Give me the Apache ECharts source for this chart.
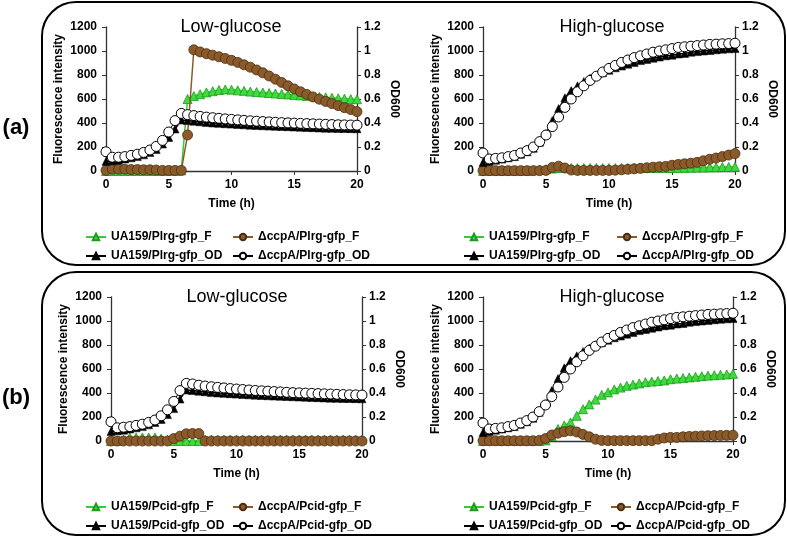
<!DOCTYPE html>
<html><head><meta charset="utf-8">
<script src="https://cdn.jsdelivr.net/npm/echarts@6/dist/echarts.min.js"></script>
<style>html,body{margin:0;padding:0;background:#fff}#c{width:787px;height:539px}</style>
</head><body><div id="c"></div>
<script>
// ---------------- DATA ----------------
const time = [0,0.5,1,1.5,2,2.5,3,3.5,4,4.5,5,5.5,6,6.5,7,7.5,8,8.5,9,9.5,10,10.5,11,11.5,12,12.5,13,13.5,14,14.5,15,15.5,16,16.5,17,17.5,18,18.5,19,19.5,20];
const xTicks = [0,5,10,15,20];
const panelTitles = ['Low-glucose','High-glucose','Low-glucose','High-glucose'];
const panelLabels = ['(a)','(b)'];
const namesA = ['UA159/Plrg-gfp_F','ΔccpA/Plrg-gfp_F','UA159/Plrg-gfp_OD','ΔccpA/Plrg-gfp_OD'];
const namesB = ['UA159/Pcid-gfp_F','ΔccpA/Pcid-gfp_F','UA159/Pcid-gfp_OD','ΔccpA/Pcid-gfp_OD'];

// (a) Low-glucose
const aLowUA_F   = [0,0,0,0,0,0,0,0,0,0,0,0,5,600,625,640,655,665,675,680,678,672,668,662,658,654,650,646,642,638,634,630,626,622,618,614,610,606,603,600,598];
const aLowCcpA_F = [5,15,15,15,12,12,10,10,8,5,5,5,5,300,1010,992,978,965,952,938,922,905,885,865,842,818,792,765,738,710,684,660,638,617,598,580,562,545,528,512,495];
const aLowUA_OD  = [0.08,0.085,0.09,0.1,0.11,0.12,0.135,0.155,0.18,0.225,0.28,0.35,0.425,0.42,0.415,0.41,0.405,0.4,0.397,0.394,0.391,0.388,0.385,0.382,0.379,0.377,0.375,0.373,0.371,0.369,0.367,0.365,0.363,0.361,0.359,0.357,0.356,0.355,0.354,0.353,0.352];
const aLowCcpA_OD= [0.16,0.115,0.115,0.12,0.13,0.14,0.155,0.175,0.205,0.255,0.325,0.42,0.48,0.47,0.462,0.455,0.449,0.444,0.439,0.434,0.43,0.426,0.422,0.418,0.415,0.412,0.409,0.406,0.403,0.401,0.399,0.397,0.395,0.393,0.391,0.389,0.387,0.385,0.384,0.383,0.382];

// (a) High-glucose
const aHighUA_F   = [0,0,0,0,0,0,0,0,5,10,15,20,25,25,25,25,25,25,25,25,25,25,25,25,25,25,25,25,25,25,25,26,27,28,29,30,31,32,33,34,35];
const aHighCcpA_F = [3,3,3,3,3,3,3,3,3,3,5,30,40,25,8,5,5,5,5,5,5,7,10,14,18,22,27,32,35,38,48,55,60,65,72,85,98,108,120,133,145];
const aHighUA_OD  = [0.07,0.08,0.09,0.1,0.11,0.12,0.14,0.16,0.19,0.24,0.31,0.42,0.52,0.61,0.67,0.71,0.745,0.775,0.8,0.82,0.84,0.86,0.875,0.89,0.905,0.92,0.93,0.94,0.95,0.96,0.965,0.975,0.98,0.99,0.995,1.0,1.005,1.01,1.015,1.018,1.02];
const aHighCcpA_OD= [0.15,0.1,0.105,0.11,0.12,0.13,0.15,0.17,0.2,0.245,0.3,0.37,0.45,0.53,0.6,0.66,0.71,0.755,0.79,0.825,0.855,0.88,0.905,0.925,0.945,0.96,0.975,0.99,1.0,1.01,1.02,1.03,1.035,1.04,1.045,1.05,1.055,1.057,1.06,1.062,1.065];

// (b) Low-glucose
const bLowUA_F   = [0,0,10,30,30,30,30,30,20,10,0,0,0,0,0,10,10,10,10,10,10,10,10,10,10,10,10,10,10,10,10,10,10,10,10,10,10,10,10,10,10];
const bLowCcpA_F = [0,0,0,0,0,0,0,0,0,0,20,40,60,62,62,0,0,0,0,0,0,0,0,0,0,0,0,0,0,0,0,0,0,0,0,0,0,0,0,0,0];
const bLowUA_OD  = [0.08,0.085,0.09,0.1,0.11,0.12,0.135,0.155,0.18,0.22,0.27,0.35,0.425,0.42,0.415,0.41,0.405,0.4,0.397,0.394,0.391,0.388,0.385,0.382,0.379,0.377,0.375,0.373,0.371,0.369,0.367,0.365,0.363,0.361,0.359,0.357,0.356,0.355,0.354,0.353,0.352];
const bLowCcpA_OD= [0.16,0.11,0.115,0.12,0.13,0.14,0.155,0.175,0.21,0.26,0.33,0.42,0.48,0.475,0.465,0.458,0.452,0.447,0.442,0.437,0.433,0.429,0.425,0.421,0.418,0.415,0.412,0.409,0.406,0.403,0.401,0.399,0.397,0.395,0.393,0.391,0.389,0.387,0.385,0.384,0.383];

// (b) High-glucose
const bHighUA_F   = [0,0,0,0,0,0,0,0,0,0,5,40,100,130,155,210,265,305,345,385,405,430,445,460,470,480,490,495,500,505,515,520,525,530,535,540,545,548,552,555,560];
const bHighCcpA_F = [2,2,2,2,2,2,2,2,2,5,20,50,65,78,85,75,55,35,15,5,3,3,3,3,3,3,3,3,15,25,30,30,35,38,40,42,44,45,46,47,48];
const bHighUA_OD  = [0.07,0.08,0.09,0.1,0.11,0.12,0.14,0.16,0.19,0.24,0.31,0.42,0.52,0.61,0.67,0.71,0.745,0.775,0.8,0.82,0.84,0.86,0.875,0.89,0.905,0.92,0.93,0.94,0.95,0.96,0.965,0.975,0.98,0.99,0.995,1.0,1.005,1.01,1.015,1.018,1.02];
const bHighCcpA_OD= [0.15,0.1,0.105,0.11,0.12,0.13,0.15,0.17,0.2,0.245,0.3,0.37,0.45,0.53,0.6,0.66,0.71,0.755,0.79,0.825,0.855,0.88,0.905,0.925,0.945,0.96,0.975,0.99,1.0,1.01,1.02,1.03,1.035,1.04,1.045,1.05,1.055,1.057,1.06,1.062,1.065];

// ---------------- LAYOUT / STYLE ----------------
const FONT = '"Liberation Sans", Arial, sans-serif';
const panels = [
  {grid:{left:106, top:27, width:251, height:144}, title:panelTitles[0], tx:231, ty:27, names:namesA, data:[aLowUA_F,aLowCcpA_F,aLowUA_OD,aLowCcpA_OD], leg:[80,227], legY:[233,252]},
  {grid:{left:483, top:27, width:252, height:144}, title:panelTitles[1], tx:612, ty:27, names:namesA, data:[aHighUA_F,aHighCcpA_F,aHighUA_OD,aHighCcpA_OD], leg:[458,611], legY:[233,252]},
  {grid:{left:111, top:297, width:251, height:144}, title:panelTitles[2], tx:237, ty:297, names:namesB, data:[bLowUA_F,bLowCcpA_F,bLowUA_OD,bLowCcpA_OD], leg:[80,227], legY:[503,522]},
  {grid:{left:483, top:297, width:250, height:144}, title:panelTitles[3], tx:612, ty:297, names:namesB, data:[bHighUA_F,bHighCcpA_F,bHighUA_OD,bHighCcpA_OD], leg:[458,605], legY:[503,522]}
];
const styles = [
  {symbol:'triangle', symbolSize:9, line:{color:'#33cc33', width:1.5}, item:{color:'#3ddc3d', borderColor:'#1f9a1f', borderWidth:0.8}, axis:0},
  {symbol:'circle', symbolSize:10, line:{color:'#8b5a2b', width:1.5}, item:{color:'#8b5a2b', borderColor:'#4a2e10', borderWidth:0.8}, axis:0},
  {symbol:'triangle', symbolSize:8, line:{color:'#000', width:1.5}, item:{color:'#000', borderColor:'#000', borderWidth:0.5}, axis:1},
  {symbol:'circle', symbolSize:10, line:{color:'#000', width:1}, item:{color:'#fff', borderColor:'#000', borderWidth:1}, axis:1}
];
const axisLine = {show:true, lineStyle:{color:'#333', width:1.3}};
const lbl = {color:'#000', fontWeight:'bold', fontSize:12, fontFamily:FONT};
const plain = v => String(Math.round(v*1000)/1000);

const grids=[], xAxes=[], yAxes=[], series=[], legends=[], graphics=[];
panels.forEach((p,i)=>{
  grids.push(p.grid);
  xAxes.push({type:'value', gridIndex:i, min:0, max:20, interval:5, axisLine, axisTick:{show:true, length:4, lineStyle:{color:'#333'}},
    axisLabel:Object.assign({margin:8, formatter:plain}, lbl), splitLine:{show:false},
    name:'Time (h)', nameLocation:'middle', nameGap:27, nameTextStyle:lbl});
  yAxes.push({type:'value', gridIndex:i, position:'left', min:0, max:1200, interval:200, axisLine, axisTick:{show:true, length:4, lineStyle:{color:'#333'}},
    axisLabel:Object.assign({margin:9, formatter:plain}, lbl), splitLine:{show:false},
    name:'Fluorescence intensity', nameLocation:'middle', nameGap:41, nameRotate:90, nameTextStyle:lbl});
  yAxes.push({type:'value', gridIndex:i, position:'right', min:0, max:1.2, interval:0.2, axisLine, axisTick:{show:true, length:4, lineStyle:{color:'#333'}},
    axisLabel:Object.assign({margin:7, formatter:plain}, lbl), splitLine:{show:false},
    name:'OD600', nameLocation:'middle', nameGap:31, nameRotate:-90, nameTextStyle:lbl});
  p.data.forEach((arr,k)=>{
    const s = styles[k];
    series.push({type:'line', name:p.names[k], xAxisIndex:i, yAxisIndex:2*i+s.axis,
      data: time.map((t,j)=>[t, arr[j]]), symbol:s.symbol, symbolSize:s.symbolSize, showSymbol:true, showAllSymbol:true,
      lineStyle:s.line, itemStyle:s.item, emphasis:{disabled:true}, z:2+k});
  });
  p.names.forEach((nm,k)=>{
    legends.push({data:[nm], left:p.leg[k%2], top:p.legY[Math.floor(k/2)]-7, itemWidth:20, itemHeight:8, itemGap:0,
      textStyle:{color:'#000', fontWeight:'bold', fontSize:12, fontFamily:FONT}, selectedMode:false});
  });
  graphics.push({type:'text', x:p.tx, y:p.ty, style:{text:p.title, fill:'#000', font:'18px '+FONT, align:'center', verticalAlign:'middle'}});
});
graphics.push({type:'rect', shape:{x:42, y:2, width:743, height:263, r:34}, style:{fill:'none', stroke:'#000', lineWidth:2}, z:0});
graphics.push({type:'rect', shape:{x:42, y:272, width:743, height:263, r:34}, style:{fill:'none', stroke:'#000', lineWidth:2}, z:0});
graphics.push({type:'text', x:16, y:128, style:{text:panelLabels[0], fill:'#000', font:'bold 22px '+FONT, align:'center', verticalAlign:'middle'}});
graphics.push({type:'text', x:16, y:398, style:{text:panelLabels[1], fill:'#000', font:'bold 22px '+FONT, align:'center', verticalAlign:'middle'}});

const chart = echarts.init(document.getElementById('c'), null, {renderer:'canvas'});
chart.setOption({
  animation:false, backgroundColor:'#fff',
  grid:grids, xAxis:xAxes, yAxis:yAxes, series, legend:legends, graphic:graphics
});
</script></body></html>
